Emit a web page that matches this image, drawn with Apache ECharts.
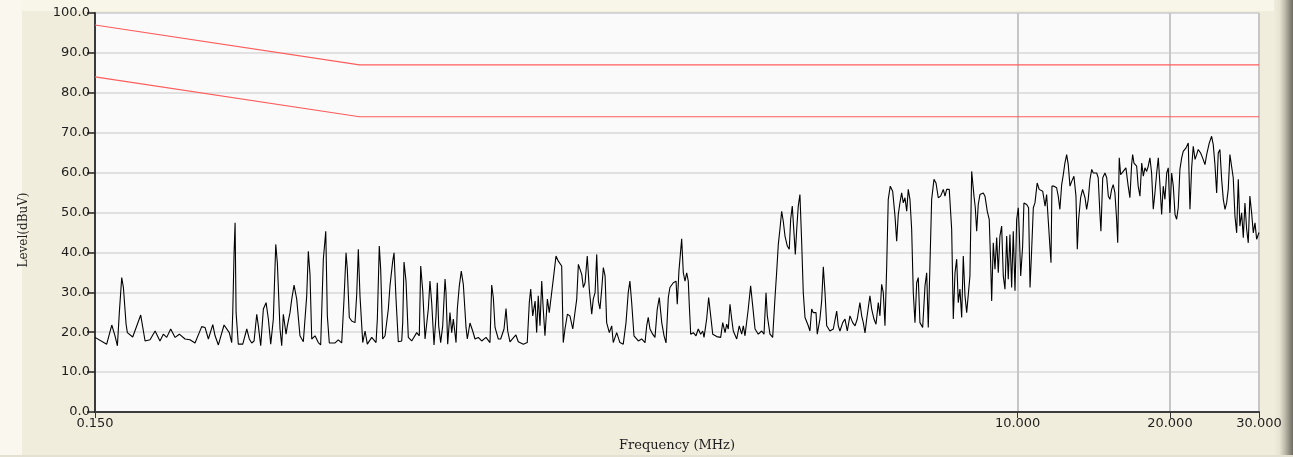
<!DOCTYPE html>
<html>
<head>
<meta charset="utf-8">
<script src="https://cdn.jsdelivr.net/npm/echarts@6/dist/echarts.min.js"></script>
<style>
  html, body { margin: 0; padding: 0; background: #f1eddc; }
  #wrap { position: relative; width: 1293px; height: 457px; background: #f1eddc; overflow: hidden; }
  #topStrip { position: absolute; left: 0; top: 0; width: 1293px; height: 11px; background: #f8f6e8; }
  #leftStrip { position: absolute; left: 0; top: 0; width: 22px; height: 457px; background: #faf8ee; }
  #rightBevel { position: absolute; left: 1274px; top: 0; width: 19px; height: 457px;
    background: linear-gradient(to right, #f1eddc 0%, #e6e3d2 30%, #bdbaab 58%, #8f8d80 82%, #6f6d63 100%); }
  #bottomLine { position: absolute; left: 0; bottom: 0; width: 1293px; height: 2px; background: #e4e1d2; }
  #chart { position: absolute; left: 0; top: 0; width: 1293px; height: 457px; }
</style>
</head>
<body>
<div id="wrap">
  <div id="topStrip"></div>
  <div id="leftStrip"></div>
  <div id="rightBevel"></div>
  <div id="bottomLine"></div>
  <div id="chart"></div>
</div>
<script>
// ---- data (frequency in MHz, level in dBuV) ----
const freqMHz = [
0.150,0.1582,0.1619,0.1643,0.1661,0.1676,0.1694,0.1707,0.1728,0.1738,
0.1781,0.1847,0.1884,0.1927,0.1972,0.2016,0.2047,0.2079,0.2117,0.2160,
0.2202,0.2260,0.2311,0.2365,0.2438,0.2475,0.2513,0.2564,0.2591,0.2630,
0.2699,0.2764,0.2795,0.2808,0.2825,0.2838,0.2851,0.2880,0.2939,0.2993,
0.3028,0.3061,0.3094,0.3132,0.3155,0.3189,0.3228,0.3268,0.3302,0.3338,
0.3378,0.3415,0.3440,0.3482,0.3509,0.3535,0.3579,0.3600,0.3644,0.3673,
0.3712,0.3757,0.3813,0.3872,0.3932,0.3961,0.3991,0.4023,0.4084,0.4145,
0.4190,0.4241,0.4288,0.4319,0.4358,0.4473,0.4540,0.4611,0.4660,0.4703,
0.4730,0.4773,0.4826,0.4899,0.4937,0.4973,0.5011,0.5074,0.5128,0.5181,
0.5286,0.5391,0.5423,0.5471,0.5506,0.5557,0.5616,0.5701,0.5744,0.5816,
0.5851,0.5904,0.5966,0.6059,0.6087,0.6123,0.6179,0.6244,0.6341,0.6488,
0.6564,0.6606,0.6667,0.6738,0.6790,0.6839,0.6891,0.6945,0.7019,0.7083,
0.7125,0.7170,0.7235,0.7302,0.7380,0.7413,0.7470,0.7548,0.7607,0.7664,
0.7759,0.7804,0.7875,0.7947,0.8020,0.8120,0.8168,0.8267,0.8371,0.8459,
0.8586,0.8720,0.8894,0.9055,0.9126,0.9194,0.9266,0.9405,0.9507,0.9653,
0.9741,0.9816,0.9918,1.004,1.019,1.030,1.054,1.073,1.083,1.090,
1.100,1.112,1.120,1.128,1.137,1.146,1.154,1.163,1.176,1.186,
1.199,1.208,1.223,1.236,1.255,1.264,1.274,1.288,1.303,1.320,
1.344,1.354,1.375,1.385,1.396,1.410,1.423,1.439,1.449,1.461,
1.472,1.483,1.494,1.506,1.517,1.529,1.540,1.559,1.576,1.587,
1.612,1.636,1.661,1.682,1.699,1.712,1.726,1.744,1.779,1.806,
1.834,1.848,1.861,1.876,1.899,1.919,1.939,1.957,1.979,2.000,
2.018,2.039,2.054,2.086,2.112,2.124,2.140,2.167,2.183,2.200,
2.217,2.233,2.243,2.258,2.285,2.313,2.337,2.363,2.385,2.399,
2.428,2.450,2.473,2.496,2.542,2.588,2.612,2.640,2.660,2.679,
2.700,2.721,2.741,2.784,2.816,2.848,2.869,2.891,2.934,2.966,
2.994,3.026,3.071,3.119,3.152,3.181,3.200,3.239,3.279,3.314,
3.340,3.364,3.389,3.416,3.441,3.468,3.505,3.536,3.559,3.585,
3.613,3.635,3.658,3.684,3.712,3.742,3.769,3.799,3.856,3.885,
3.916,3.945,3.994,4.017,4.066,4.098,4.129,4.161,4.193,4.255,
4.321,4.388,4.420,4.454,4.510,4.557,4.605,4.661,4.720,4.770,
4.819,4.878,4.917,4.953,4.992,5.030,5.105,5.146,5.200,5.248,
5.303,5.343,5.385,5.425,5.467,5.510,5.549,5.600,5.662,5.722,
5.766,5.808,5.852,5.898,5.942,5.988,6.035,6.078,6.125,6.173,
6.219,6.267,6.316,6.361,6.410,6.490,6.559,6.610,6.658,6.708,
6.761,6.833,6.896,6.968,7.044,7.129,7.184,7.240,7.325,7.406,
7.461,7.519,7.577,7.632,7.690,7.751,7.808,7.869,7.930,7.987,
8.048,8.112,8.198,8.247,8.299,8.359,8.423,8.552,8.619,8.709,
8.787,8.844,8.885,8.950,9.020,9.090,9.156,9.225,9.298,9.367,
9.440,9.513,9.582,9.655,9.731,9.803,9.880,9.956,10.03,10.07,
10.14,10.23,10.29,10.42,10.51,10.58,10.66,10.74,10.82,10.93,
11.03,11.21,11.33,11.41,11.50,11.58,11.64,11.69,11.80,11.94,
12.03,12.12,12.22,12.31,12.40,12.50,12.59,12.69,12.79,12.92,
13.04,13.12,13.20,13.32,13.44,13.59,13.69,13.79,13.90,14.01,
14.11,14.33,14.43,14.54,14.61,14.73,14.88,15.00,15.11,15.22,
15.34,15.45,15.57,15.69,15.77,15.88,15.98,16.17,16.37,16.54,
16.67,16.80,16.88,16.98,17.19,17.31,17.45,17.59,17.72,17.85,
17.99,18.12,18.26,18.40,18.54,18.68,18.83,18.97,19.11,19.26,
19.40,19.55,19.71,19.85,20.00,20.16,20.31,20.47,20.62,20.77,
20.93,21.10,21.25,21.52,21.74,21.91,22.08,22.24,22.42,22.59,
22.75,23.00,23.21,23.46,23.64,23.92,24.18,24.36,24.55,24.74,
24.92,25.11,25.31,25.50,25.70,25.89,26.08,26.28,26.49,26.68,
26.89,27.10,27.30,27.50,27.72,27.93,28.14,28.36,28.57,28.78,
29.01,29.23,29.46,29.68,30.00
];

const levelDbuV = [
18.7,17.0,21.8,19.1,16.6,25.1,33.7,31.2,22.0,19.9,
18.8,24.3,17.8,18.1,20.3,17.8,19.5,18.7,20.8,18.7,
19.5,18.3,18.1,17.3,21.4,21.2,18.3,21.9,19.1,16.8,
21.8,19.9,17.4,24.9,39.9,47.4,24.9,17.0,17.0,20.8,
18.3,17.3,17.8,24.5,21.6,16.6,25.8,27.4,23.3,17.0,
23.3,42.0,37.4,20.8,16.6,24.5,19.5,21.6,24.9,28.3,
31.8,28.3,19.1,17.6,29.1,40.3,34.5,18.3,19.1,17.4,
16.8,38.3,45.3,24.1,17.3,17.3,18.1,17.3,28.3,39.9,
35.8,23.7,22.8,22.4,29.5,40.8,29.1,17.4,20.3,17.0,
18.7,17.4,23.3,41.6,35.8,18.3,19.1,25.8,31.6,37.8,
39.9,28.3,17.6,17.8,22.4,37.6,32.8,18.7,17.8,19.9,
19.1,36.6,30.4,18.3,17.8,25.8,32.8,27.4,16.8,24.1,
32.4,21.6,17.4,21.6,33.3,29.9,17.0,24.9,19.9,23.3,
17.4,25.8,31.6,35.3,32.0,21.2,18.3,22.3,20.3,18.3,
18.7,17.8,18.7,17.4,31.8,28.7,21.2,18.3,18.3,20.8,
25.9,20.3,17.6,18.4,19.3,17.6,17.0,17.4,27.4,30.8,
24.1,27.8,19.9,29.1,21.6,32.8,25.8,19.1,28.3,24.9,
29.9,33.3,39.1,37.8,36.6,17.4,20.8,24.5,24.1,20.8,
28.3,37.0,34.5,31.2,32.4,39.1,30.8,24.5,28.3,29.9,
39.5,27.8,25.8,30.8,36.2,34.1,22.4,19.9,21.6,17.4,
19.9,17.4,17.0,22.4,29.9,32.8,27.4,19.1,17.8,18.3,
17.4,21.6,23.7,20.8,19.5,18.7,25.8,28.7,22.4,19.1,
17.3,28.7,31.2,32.4,32.8,27.0,35.3,43.4,34.9,32.8,
34.9,32.8,27.0,19.5,19.9,19.1,20.8,19.5,20.3,18.7,
23.3,28.7,24.1,19.5,18.9,18.7,22.4,19.9,22.0,20.8,
27.0,23.3,20.3,18.3,21.6,19.5,21.6,19.1,25.8,31.6,
26.6,20.8,19.5,20.3,19.5,29.9,24.1,19.5,18.7,28.7,
35.3,42.0,45.8,50.3,47.8,44.1,41.6,40.8,48.3,51.6,
44.9,39.5,45.8,51.6,54.5,42.4,29.9,23.7,21.6,20.3,
25.8,24.9,24.9,19.5,23.3,27.8,36.4,29.9,21.6,20.3,
20.8,25.3,21.6,20.3,22.4,23.3,20.3,24.1,22.4,21.6,
23.3,27.4,24.1,22.4,19.8,23.3,29.1,25.8,23.3,22.0,
27.4,24.1,32.0,29.9,21.6,36.6,53.3,56.6,55.3,49.1,
42.8,49.5,52.4,54.9,52.4,53.7,50.3,55.8,53.3,45.8,
29.9,22.4,32.4,33.7,22.4,21.2,31.6,34.9,21.2,36.6,
53.3,58.3,57.4,53.7,54.1,55.8,54.1,55.8,55.8,45.8,
23.3,34.9,38.3,27.4,30.8,23.7,39.1,29.1,24.9,24.9,
34.1,60.3,54.1,51.2,45.3,52.0,54.5,54.9,54.1,50.3,
48.3,37.4,27.8,42.4,35.8,43.7,34.9,44.1,46.6,34.1,
30.8,44.1,33.3,44.5,31.2,45.3,30.4,48.3,51.2,45.8,
34.1,41.6,52.4,52.0,51.2,31.2,40.8,51.2,52.4,57.4,
55.8,55.3,51.6,54.5,54.9,41.6,37.4,56.6,56.6,56.2,
54.1,50.8,57.0,59.5,62.4,64.5,62.0,56.6,57.8,59.1,
54.1,40.8,48.3,53.7,55.8,53.7,50.8,53.3,58.3,60.8,
59.9,59.9,58.7,49.9,45.3,58.7,59.9,58.7,54.1,53.3,
55.8,57.0,54.9,48.3,42.4,63.7,59.5,60.3,61.2,56.6,
53.7,62.0,64.5,62.4,61.6,56.6,54.1,62.4,59.1,61.2,
60.3,61.6,63.7,59.9,50.8,54.9,59.9,63.7,57.0,49.5,
56.6,53.3,59.9,61.2,49.9,59.9,56.6,49.5,48.3,51.2,
60.8,63.7,65.3,66.2,67.4,50.8,61.2,66.6,63.3,64.5,
65.8,64.9,63.7,62.0,64.5,67.4,69.1,67.0,62.0,54.9,
64.9,65.8,58.3,53.3,50.8,52.4,55.8,64.5,64.1,58.7,
49.1,44.9,58.3,46.6,49.9,43.7,52.4,45.8,42.4,54.1,
49.9,44.9,47.4,43.3,45.0
];

// limit lines
const limitFreqMHz = [0.15, 0.5, 30];
const limitUpper = [97, 87, 87];
const limitLower = [84, 74, 74];

// axis ticks
const xTickValues = [0.15, 10, 20, 30];
const yMin = 0, yMax = 100, yInterval = 10;

// ---- chart ----
const traceData = freqMHz.map((f, i) => [f, levelDbuV[i]]);
const upperData = limitFreqMHz.map((f, i) => [f, limitUpper[i]]);
const lowerData = limitFreqMHz.map((f, i) => [f, limitLower[i]]);

const chart = echarts.init(document.getElementById('chart'), null, { renderer: 'canvas' });
const labelFont = { fontFamily: 'DejaVu Sans', fontSize: 13, color: '#1e1e1e' };

chart.setOption({
  animation: false,
  backgroundColor: 'transparent',
  grid: {
    left: 95, top: 13, width: 1164, height: 400,
    show: true, backgroundColor: '#fafafa', borderColor: '#a0a0a0', borderWidth: 1
  },
  xAxis: [{
    type: 'log', logBase: 10, min: 0.15, max: 30,
    name: 'Frequency (MHz)', nameLocation: 'middle', nameGap: 27,
    nameTextStyle: { fontFamily: 'DejaVu Serif', fontSize: 13, color: '#1e1e1e' },
    axisLine: { show: true, onZero: false, lineStyle: { color: '#707070', width: 1 } },
    axisTick: { show: true, customValues: xTickValues, length: 6, lineStyle: { color: '#333', width: 1 } },
    axisLabel: Object.assign({ customValues: xTickValues, margin: 5, formatter: v => Number(v).toFixed(3) }, labelFont),
    splitLine: { show: true, lineStyle: { color: '#c6c6c6', width: 2 } },
    minorTick: { show: false }, minorSplitLine: { show: false }
  }, {
    type: 'value', position: 'top', min: 0, max: 1,
    axisLine: { show: true, lineStyle: { color: '#3c3c3c', width: 2 } },
    axisTick: { show: false }, axisLabel: { show: false }, splitLine: { show: false }
  }],
  yAxis: {
    type: 'value', min: yMin, max: yMax, interval: yInterval,
    axisLine: { show: true, lineStyle: { color: '#3a3a3a', width: 2 } },
    axisTick: { show: true, length: 8, lineStyle: { color: '#222', width: 1.5 } },
    axisLabel: Object.assign({ margin: 5, formatter: v => Number(v).toFixed(1) }, labelFont),
    splitLine: { show: true, lineStyle: { color: '#d8d8d8', width: 1.5 } }
  },
  graphic: [{
    type: 'text', x: 24, y: 230, rotation: Math.PI / 2,
    style: { text: 'Level(dBuV)', font: '12px "DejaVu Serif"', fill: '#1e1e1e', textAlign: 'center', textVerticalAlign: 'middle' }
  }],
  series: [{
    name: 'Limit 1', type: 'line', data: upperData, symbol: 'none',
    lineStyle: { color: '#ff5c5c', width: 1.2 }, z: 3
  }, {
    name: 'Limit 2', type: 'line', data: lowerData, symbol: 'none',
    lineStyle: { color: '#ff5c5c', width: 1.2 }, z: 3
  }, {
    name: 'Level', type: 'line', data: traceData, symbol: 'none',
    lineStyle: { color: '#000', width: 1.1 }, z: 4
  }]
});
</script>
</body>
</html>
